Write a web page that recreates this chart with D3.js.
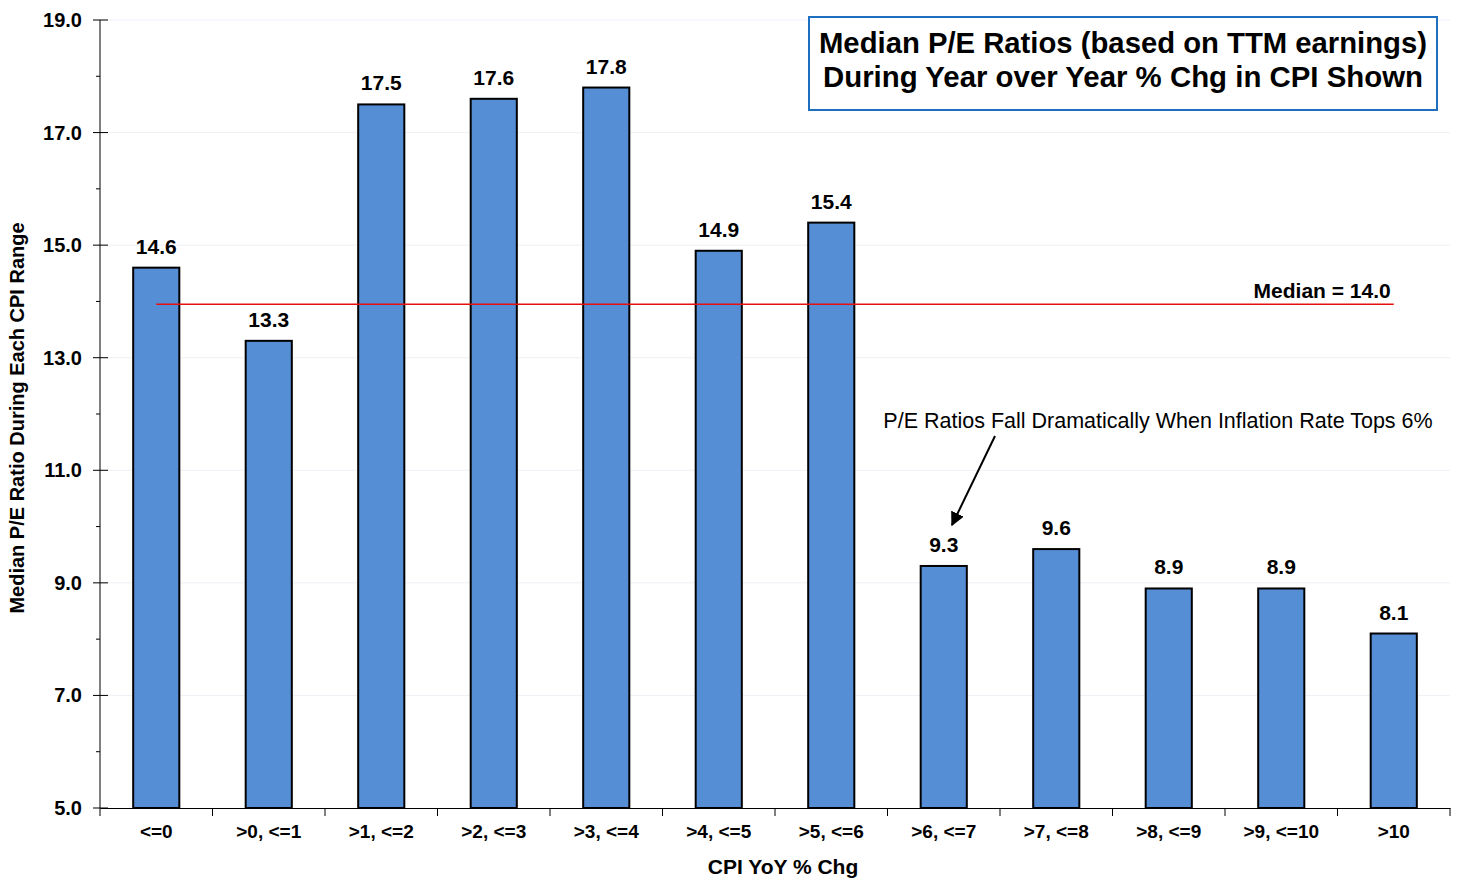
<!DOCTYPE html>
<html>
<head>
<meta charset="utf-8">
<script src="https://cdn.jsdelivr.net/npm/d3@7"></script>
<style>
    body { margin: 0; background: #fff; }
    text { font-family: "Liberation Sans", Arial, sans-serif; }
</style>
</head>
<body>
<div id="chart"></div>
<script>
// chart data
const categories = ['<=0', '>0, <=1', '>1, <=2', '>2, <=3', '>3, <=4', '>4, <=5',
    '>5, <=6', '>6, <=7', '>7, <=8', '>8, <=9', '>9, <=10', '>10'];
const peValues = [14.6, 13.3, 17.5, 17.6, 17.8, 14.9, 15.4, 9.3, 9.6, 8.9, 8.9, 8.1];
const yMajorTicks = [5, 7, 9, 11, 13, 15, 17, 19];
const yMinorTicks = [6, 8, 10, 12, 14, 16, 18];
const medianValue = 13.95;
const medianLabel = 'Median = 14.0';
const titleLines = ['Median P/E Ratios (based on TTM earnings)', 'During Year over Year % Chg in CPI Shown'];
const noteText = 'P/E Ratios Fall Dramatically When Inflation Rate Tops 6%';

const MARGIN = { top: 20, right: 10, bottom: 72, left: 100 };
const WIDTH = 1350;
const HEIGHT = 788;

const svg = d3.select('#chart')
    .append('svg')
        .attr('width', 1460)
        .attr('height', 880)
    .append('g')
        .attr('transform', 'translate(' + MARGIN.left + ',' + MARGIN.top + ')');

const x = d3.scaleBand()
    .domain(categories)
    .range([0, WIDTH])
    .paddingInner(0.59)
    .paddingOuter(0.295);

const y = d3.scaleLinear()
    .domain([5, 19])
    .range([HEIGHT, 0]);

// faint gridlines
svg.append('g')
    .selectAll('line')
    .data(yMajorTicks.slice(1))
    .join('line')
        .attr('x1', 0)
        .attr('x2', WIDTH)
        .attr('y1', d => y(d))
        .attr('y2', d => y(d))
        .attr('stroke', '#eef0f6')
        .attr('stroke-width', 1);

// title box
const box = svg.append('g');
box.append('rect')
    .attr('x', 709)
    .attr('y', -3)
    .attr('width', 628)
    .attr('height', 93)
    .attr('fill', '#fff')
    .attr('stroke', '#1f6fc1')
    .attr('stroke-width', 2);
box.selectAll('text')
    .data(titleLines)
    .join('text')
        .text(d => d)
        .attr('x', 1023)
        .attr('y', (d, i) => 33 + i * 34)
        .attr('text-anchor', 'middle')
        .attr('font-size', 29)
        .attr('font-weight', 'bold')
        .attr('textLength', (d, i) => i === 0 ? 608 : 600)
        .attr('lengthAdjust', 'spacingAndGlyphs')
        .attr('fill', '#000');

// bars
svg.append('g')
    .selectAll('rect')
    .data(peValues)
    .join('rect')
        .attr('x', (d, i) => x(categories[i]))
        .attr('y', d => y(d))
        .attr('width', x.bandwidth())
        .attr('height', d => HEIGHT - y(d))
        .attr('fill', '#558ed5')
        .attr('stroke', '#000')
        .attr('stroke-width', 2);

// value labels
svg.append('g')
    .selectAll('text')
    .data(peValues)
    .join('text')
        .text(d => d.toFixed(1))
        .attr('x', (d, i) => x(categories[i]) + x.bandwidth() / 2)
        .attr('y', d => y(d) - 14)
        .attr('text-anchor', 'middle')
        .attr('font-size', 21)
        .attr('font-weight', 'bold')
        .attr('fill', '#000');

// median line
const xFirst = x(categories[0]) + x.bandwidth() / 2;
const xLast = x(categories[categories.length - 1]) + x.bandwidth() / 2;
svg.append('line')
    .attr('x1', xFirst)
    .attr('x2', xLast)
    .attr('y1', y(medianValue))
    .attr('y2', y(medianValue))
    .attr('stroke', '#e8100f')
    .attr('stroke-width', 1.5);
svg.append('text')
    .text(medianLabel)
    .attr('x', xLast - 3)
    .attr('y', y(medianValue) - 6)
    .attr('text-anchor', 'end')
    .attr('font-size', 21)
    .attr('font-weight', 'bold')
    .attr('fill', '#000');

// annotation with arrow
svg.append('defs')
    .append('marker')
        .attr('id', 'arrow')
        .attr('viewBox', '0 0 10 10')
        .attr('refX', 9)
        .attr('refY', 5)
        .attr('markerWidth', 7)
        .attr('markerHeight', 7)
        .attr('orient', 'auto')
    .append('path')
        .attr('d', 'M0,0 L10,5 L0,10 z')
        .attr('fill', '#000');
svg.append('text')
    .text(noteText)
    .attr('x', 1058)
    .attr('y', 408)
    .attr('text-anchor', 'middle')
    .attr('font-size', 21.5)
    .attr('fill', '#000');
svg.append('line')
    .attr('x1', 895)
    .attr('y1', 416)
    .attr('x2', 852)
    .attr('y2', 505)
    .attr('stroke', '#000')
    .attr('stroke-width', 2)
    .attr('marker-end', 'url(#arrow)');

// Y axis
const yAxis = svg.append('g');
yAxis.append('line')
    .attr('x1', 0).attr('x2', 0)
    .attr('y1', 0).attr('y2', HEIGHT)
    .attr('stroke', '#000');
yAxis.selectAll('.major')
    .data(yMajorTicks)
    .join('line')
        .attr('class', 'major')
        .attr('x1', -7).attr('x2', 8)
        .attr('y1', d => y(d)).attr('y2', d => y(d))
        .attr('stroke', '#000');
yAxis.selectAll('.minor')
    .data(yMinorTicks)
    .join('line')
        .attr('class', 'minor')
        .attr('x1', -4).attr('x2', 0)
        .attr('y1', d => y(d)).attr('y2', d => y(d))
        .attr('stroke', '#000');
yAxis.selectAll('text')
    .data(yMajorTicks)
    .join('text')
        .text(d => d.toFixed(1))
        .attr('x', -18)
        .attr('y', d => y(d))
        .attr('dy', '0.35em')
        .attr('text-anchor', 'end')
        .attr('font-size', 20)
        .attr('font-weight', 'bold')
        .attr('fill', '#000');
yAxis.append('text')
    .text('Median P/E Ratio During Each CPI Range')
    .attr('transform', 'rotate(-90)')
    .attr('x', -(418 - MARGIN.top))
    .attr('y', -76)
    .attr('text-anchor', 'middle')
    .attr('font-size', 20)
    .attr('font-weight', 'bold')
    .attr('fill', '#000');

// X axis
const xAxis = d3.axisBottom(x)
    .tickSize(0)
    .tickPadding(17);
const xg = svg.append('g')
    .attr('transform', 'translate(0,' + HEIGHT + ')')
    .call(xAxis);
xg.select('.domain').attr('stroke', '#000');
xg.selectAll('.tick text')
    .attr('font-size', 19)
    .attr('font-weight', 'bold')
    .attr('font-family', '"Liberation Sans", Arial, sans-serif')
    .attr('fill', '#000');
xg.selectAll('.sep')
    .data(d3.range(categories.length + 1))
    .join('line')
        .attr('class', 'sep')
        .attr('x1', i => i * WIDTH / categories.length)
        .attr('x2', i => i * WIDTH / categories.length)
        .attr('y1', 0)
        .attr('y2', 8)
        .attr('stroke', '#000');
xg.append('text')
    .text('CPI YoY % Chg')
    .attr('x', WIDTH / 2 + 8)
    .attr('y', 66)
    .attr('text-anchor', 'middle')
    .attr('font-size', 21)
    .attr('font-weight', 'bold')
    .attr('fill', '#000');
</script>
</body>
</html>
